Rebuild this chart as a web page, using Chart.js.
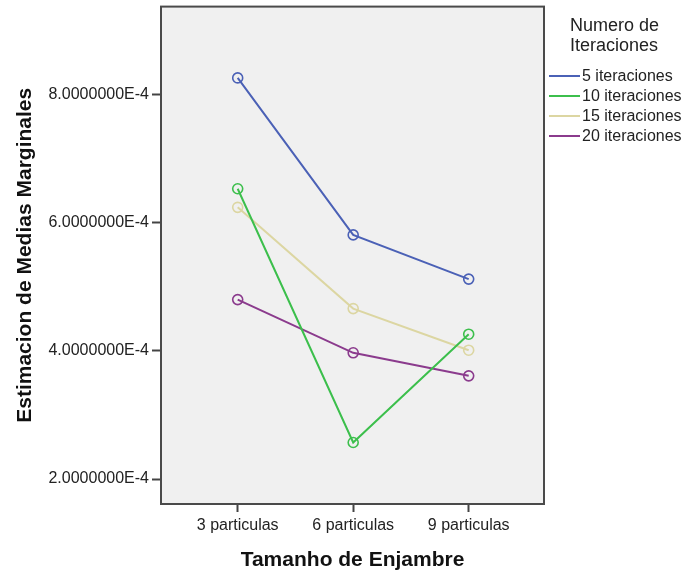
<!DOCTYPE html>
<html>
<head>
<meta charset="utf-8">
<script src="https://cdn.jsdelivr.net/npm/chart.js@4"></script>
<style>
  html, body { margin: 0; padding: 0; background: #ffffff; }
  #wrap { width: 688px; height: 574px; }
</style>
</head>
<body>
<div id="wrap"><canvas id="c" width="688" height="574"></canvas></div>
<script>
// Swarm sizes on the horizontal axis
const categories = ['3 particulas', '6 particulas', '9 particulas'];

// Estimated marginal means per number of iterations
const seriesLabels = ['5 iteraciones', '10 iteraciones', '15 iteraciones', '20 iteraciones'];
const iter5  = [8.26e-4, 5.81e-4, 5.12e-4];
const iter10 = [6.53e-4, 2.57e-4, 4.26e-4];
const iter15 = [6.24e-4, 4.66e-4, 4.01e-4];
const iter20 = [4.80e-4, 3.97e-4, 3.61e-4];

// Vertical axis ticks
const yTickValues = [2e-4, 4e-4, 6e-4, 8e-4];
const yTickLabels = ['2.0000000E-4', '4.0000000E-4', '6.0000000E-4', '8.0000000E-4'];

const seriesColors = ['#4b61b6', '#3cbf4c', '#dcd6a2', '#8b3b8d'];
const seriesValues = [iter5, iter10, iter15, iter20];

const datasets = seriesValues.map((vals, i) => ({
  label: seriesLabels[i],
  data: vals.map((v, j) => ({ x: j, y: v })),
  borderColor: seriesColors[i],
  backgroundColor: 'transparent',
  borderWidth: 2,
  pointRadius: 5,
  pointBorderWidth: 1.6,
  pointBackgroundColor: 'transparent',
  pointBorderColor: seriesColors[i],
  tension: 0
}));

// Grey plot background and dark frame around the plotting area
const framePlugin = {
  id: 'frame',
  beforeDatasetsDraw(chart) {
    const { ctx, chartArea: a } = chart;
    ctx.save();
    ctx.fillStyle = '#f0f0f0';
    ctx.fillRect(a.left, a.top, a.right - a.left, a.bottom - a.top);
    ctx.restore();
  },
  afterDatasetsDraw(chart) {
    const { ctx, chartArea: a } = chart;
    ctx.save();
    ctx.strokeStyle = '#4a4a4a';
    ctx.lineWidth = 2;
    ctx.strokeRect(a.left, a.top, a.right - a.left, a.bottom - a.top);
    ctx.restore();
  }
};

// Legend block to the right of the plot
const legendPlugin = {
  id: 'sideLegend',
  afterDraw(chart) {
    const { ctx } = chart;
    ctx.save();
    ctx.fillStyle = '#222';
    ctx.textBaseline = 'middle';
    ctx.textAlign = 'left';
    ctx.font = '18px "Liberation Sans", Arial, sans-serif';
    ctx.fillText('Numero de', 570, 26);
    ctx.fillText('Iteraciones', 570, 46);
    ctx.font = '16px "Liberation Sans", Arial, sans-serif';
    chart.data.datasets.forEach((ds, i) => {
      const y = 76 + i * 20;
      ctx.strokeStyle = ds.borderColor;
      ctx.lineWidth = 2;
      ctx.beginPath();
      ctx.moveTo(549, y);
      ctx.lineTo(580, y);
      ctx.stroke();
      ctx.fillStyle = '#222';
      ctx.fillText(ds.label, 582, y + 1);
    });
    ctx.restore();
  }
};

new Chart(document.getElementById('c'), {
  type: 'line',
  data: { datasets },
  plugins: [framePlugin, legendPlugin],
  options: {
    responsive: false,
    animation: false,
    events: [],
    layout: { padding: { top: 6, right: 144, bottom: 0, left: 0 } },
    plugins: { legend: { display: false }, tooltip: { enabled: false } },
    scales: {
      x: {
        type: 'linear',
        min: -0.664,
        max: 2.652,
        afterBuildTicks(scale) { scale.ticks = categories.map((_, i) => ({ value: i })); },
        afterFit(scale) { scale.height = 70; scale.paddingLeft = 0; scale.paddingRight = 0; },
        ticks: {
          callback: (v) => categories[v],
          color: '#222',
          font: { family: '"Liberation Sans", Arial, sans-serif', size: 16 },
          padding: 4,
          maxRotation: 0,
          autoSkip: false
        },
        grid: { drawOnChartArea: false, drawTicks: true, tickLength: 8, tickColor: '#444', tickWidth: 2 },
        border: { display: false },
        title: {
          display: true,
          text: 'Tamanho de Enjambre',
          color: '#111',
          font: { family: '"Liberation Sans", Arial, sans-serif', size: 21, weight: 'bold' },
          padding: { top: 0, bottom: 1 }
        }
      },
      y: {
        type: 'linear',
        min: 1.61e-4,
        max: 9.373e-4,
        afterBuildTicks(scale) { scale.ticks = yTickValues.map(v => ({ value: v })); },
        afterFit(scale) { scale.width = 161; scale.paddingTop = 0; scale.paddingBottom = 0; },
        ticks: {
          callback: (v) => yTickLabels[yTickValues.findIndex(t => Math.abs(t - v) < 1e-9)],
          color: '#222',
          font: { family: '"Liberation Sans", Arial, sans-serif', size: 16 },
          padding: 3
        },
        grid: { drawOnChartArea: false, drawTicks: true, tickLength: 9, tickColor: '#444', tickWidth: 2 },
        border: { display: false },
        title: {
          display: true,
          text: 'Estimacion de Medias Marginales',
          color: '#111',
          font: { family: '"Liberation Sans", Arial, sans-serif', size: 21, weight: 'bold' },
          padding: { top: 13, bottom: 0 }
        }
      }
    }
  }
});
</script>
</body>
</html>
